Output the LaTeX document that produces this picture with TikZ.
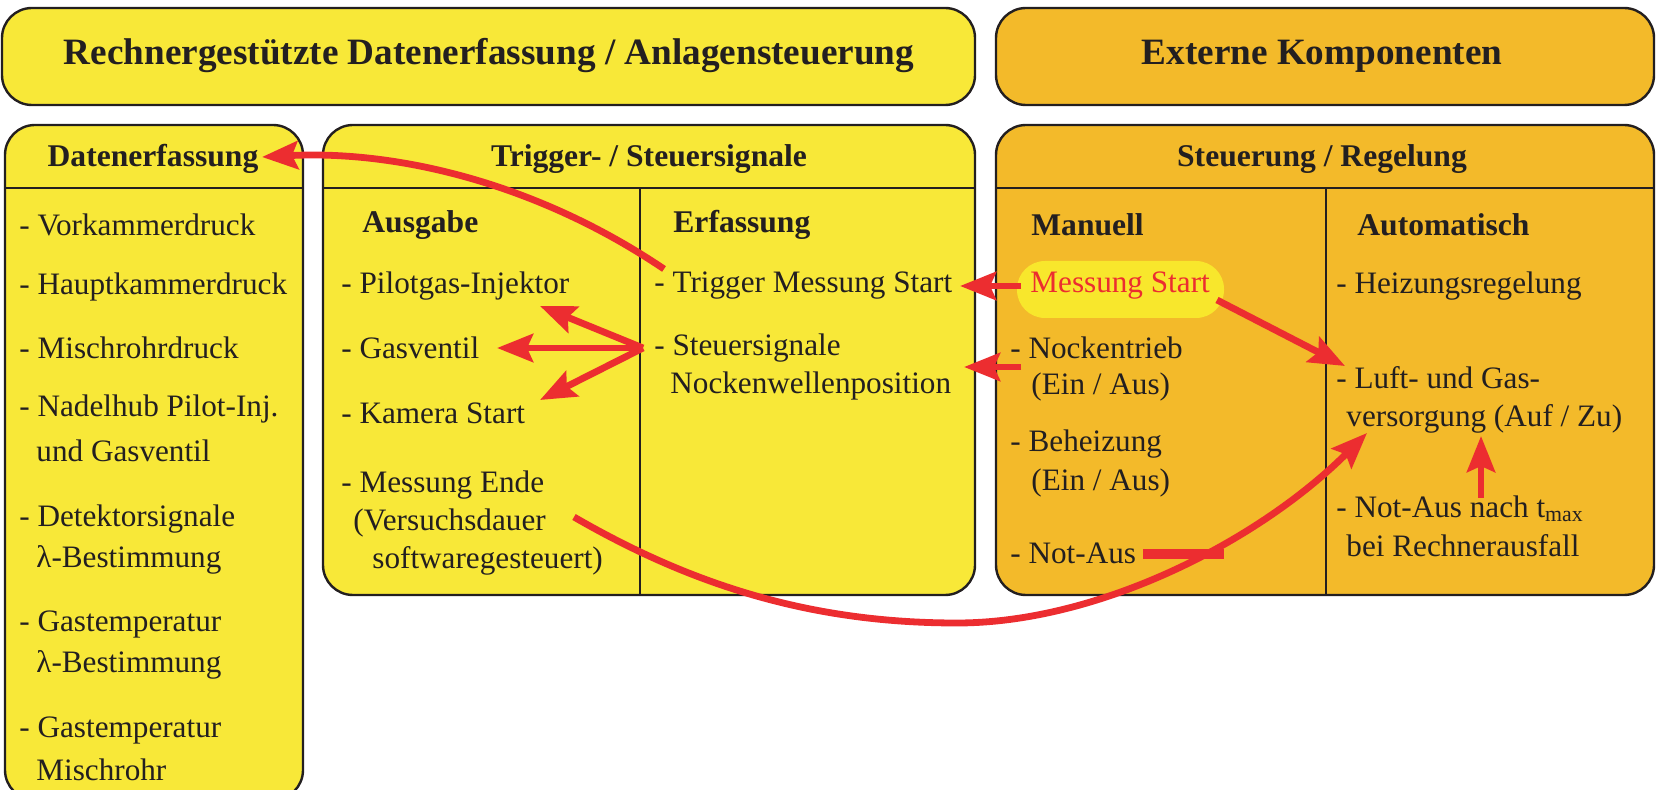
\documentclass[tikz,border=0pt]{standalone}
\usepackage{fontspec}
\setmainfont{Liberation Serif}
\usetikzlibrary{arrows.meta}
\definecolor{ylw}{HTML}{F8E838}
\definecolor{org}{HTML}{F3BA2A}
\definecolor{hilite}{HTML}{F8E72C}
\definecolor{rd}{HTML}{EC2D30}
\definecolor{ink}{HTML}{231F20}
\begin{document}
\begin{tikzpicture}[x=0.5pt,y=-0.5pt,
  panel/.style={draw=ink, line width=1.2pt, rounded corners=15pt},
  divline/.style={draw=ink, line width=1pt},
  ttl/.style={inner sep=0pt, text=ink, font=\fontsize{18.6}{22}\selectfont\bfseries},
  hd/.style={inner sep=0pt, text=ink, font=\fontsize{15.8}{18}\selectfont\bfseries},
  colhd/.style={anchor=west, inner sep=0pt, text=ink, font=\fontsize{15.8}{18}\selectfont\bfseries},
  txt/.style={anchor=west, inner sep=0pt, text=ink, font=\fontsize{15.6}{18}\selectfont},
  conn/.style={draw=rd, line width=3.4pt, -{Stealth[length=18pt,width=14pt,inset=3pt]}},
  plain/.style={draw=rd, line width=3.4pt}
]
\useasboundingbox (0,0) rectangle (1659,790);
\clip (0,0) rectangle (1659,790);

% top title boxes
\draw[panel, fill=ylw] (2,8) rectangle (975,105);
\draw[panel, fill=org] (996,8) rectangle (1654,105);
\node[ttl] (t1) at (489,56) {Rechnergestützte Datenerfassung / Anlagensteuerung};
\node[ttl] (t2) at (1322,56) {Externe Komponenten};

% section boxes
\draw[panel, fill=ylw] (5,125) rectangle (303,800);
\draw[panel, fill=ylw] (323,125) rectangle (975,595);
\draw[panel, fill=org] (996,125) rectangle (1654,595);
\draw[divline] (5,188) -- (303,188);
\draw[divline] (323,188) -- (975,188);
\draw[divline] (996,188) -- (1654,188);
\draw[divline] (640,188) -- (640,595);
\draw[divline] (1326,188) -- (1326,595);

% section headers
\node[hd] (hDat) at (153,159) {Datenerfassung};
\node[hd] (hTrig) at (649,159) {Trigger- / Steuersignale};
\node[hd] (hSteu) at (1322,159) {Steuerung / Regelung};

% Datenerfassung items
\node[txt] (d1) at (19,225) {- Vorkammerdruck};
\node[txt] (d2) at (19,287) {- Hauptkammerdruck};
\node[txt] (d3) at (19,348) {- Mischrohrdruck};
\node[txt] (d4) at (19,409) {- Nadelhub Pilot-Inj.};
\node[txt] (d4b) at (36,451) {und Gasventil};
\node[txt] (d5) at (19,519) {- Detektorsignale};
\node[txt] (d5b) at (36,560) {λ-Bestimmung};
\node[txt] (d6) at (19,624) {- Gastemperatur};
\node[txt] (d6b) at (36,665) {λ-Bestimmung};
\node[txt] (d7) at (19,730) {- Gastemperatur};
\node[txt] (d7b) at (36,770) {Mischrohr};

% Ausgabe
\node[colhd] (hAus) at (362,225) {Ausgabe};
\node[txt] (a1) at (341,286) {- Pilotgas-Injektor};
\node[txt] (a2) at (341,348) {- Gasventil};
\node[txt] (a3) at (341,413) {- Kamera Start};
\node[txt] (a4) at (341,485) {- Messung Ende};
\node[txt] (a4b) at (353,523) {(Versuchsdauer};
\node[txt] (a4c) at (372,561) {softwaregesteuert)};

% Erfassung
\node[colhd] (hErf) at (673,225) {Erfassung};
\node[txt] (e1) at (654,286) {- Trigger Messung Start};
\node[txt] (e2) at (654,348) {- Steuersignale};
\node[txt] (e2b) at (670,386) {Nockenwellenposition};

% Manuell
\node[colhd] (hMan) at (1031,225) {Manuell};
\fill[hilite, rounded corners=14pt] (1017,261) rectangle (1224,318);
\node[txt, text=rd] (m1) at (1030,286) {Messung Start};
\node[txt] (m2) at (1010,348) {- Nockentrieb};
\node[txt] (m2b) at (1031,387) {(Ein / Aus)};
\node[txt] (m3) at (1010,444) {- Beheizung};
\node[txt] (m3b) at (1031,483) {(Ein / Aus)};
\node[txt] (m4) at (1010,553) {- Not-Aus};

% Automatisch
\node[colhd] (hAut) at (1357,225) {Automatisch};
\node[txt] (u1) at (1336,286) {- Heizungsregelung};
\node[txt] (u2) at (1336,378) {- Luft- und Gas-};
\node[txt] (u2b) at (1346,419) {versorgung (Auf / Zu)};
\node[txt] (u3) at (1336,509) {- Not-Aus nach t\textsubscript{max}};
\node[txt] (u3b) at (1346,546) {bei Rechnerausfall};

% connector coordinates
\coordinate (trigStart) at (664,269);
\coordinate (datTip) at (262,157);
\coordinate (fan) at (643,348);
\coordinate (pilTip) at (540,306);
\coordinate (gasTip) at (497,348);
\coordinate (kamTip) at (540,400);
\coordinate (msL) at (1021,286);
\coordinate (trigTip) at (960,286);
\coordinate (nockL) at (1021,367);
\coordinate (nockTip) at (964,367);
\coordinate (msR) at (1217,300);
\coordinate (luftTip) at (1345,366);
\coordinate (endStart) at (574,517);
\coordinate (bottom) at (957,623);
\coordinate (versTip) at (1367,433);
\coordinate (notR) at (1143,554);
\coordinate (notJ) at (1224,554);
\coordinate (tmaxS) at (1481,498);
\coordinate (versB) at (1481,436);

% connectors
\draw[conn] (trigStart) .. controls (540,185) and (400,150) .. (datTip);
\draw[conn] (fan) -- (pilTip);
\draw[conn] (fan) -- (gasTip);
\draw[conn] (fan) -- (kamTip);
\draw[conn] (msL) -- (trigTip);
\draw[conn] (nockL) -- (nockTip);
\draw[conn] (msR) -- (luftTip);
\draw[conn] (endStart) .. controls (700,590) and (820,623) .. (bottom)
   .. controls (1100,623) and (1260,540) .. (versTip);
\draw[plain, line width=4.6pt] (notR) -- (notJ);
\draw[conn] (tmaxS) -- (versB);
\end{tikzpicture}
\end{document}
